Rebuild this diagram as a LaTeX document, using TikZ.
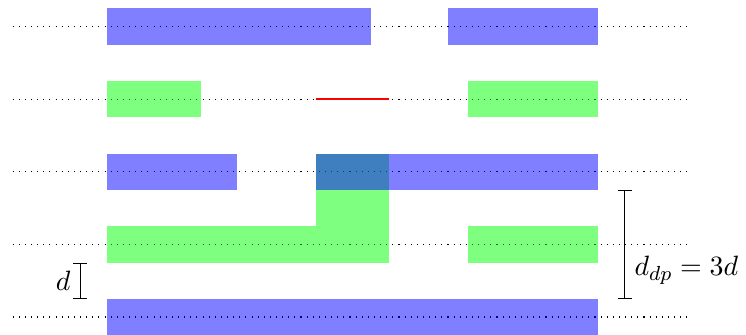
\documentclass[11pt,tikz,border=0pt]{standalone}
\begin{document}
\begin{tikzpicture}[metal/.style={fill=blue,fill opacity=.5},
  poly/.style={fill=green,fill opacity=.5},
  guide/.style={dotted},
  dim/.style={|-|}]
  \useasboundingbox (-1.474,-0.234) rectangle (8.80,4.366);
  % layer guides
  \foreach \y in {0,...,4}
    \draw[guide] (-1.3,\y) -- (8,\y);
  % top metal
  \fill[metal] (0,3.75) rectangle (3.64,4.25);
  \fill[metal] (4.70,3.75) rectangle (6.76,4.25);
  % poly with cut
  \fill[poly] (0,2.75) rectangle (1.29,3.25);
  \fill[poly] (4.97,2.75) rectangle (6.76,3.25);
  \draw[red,thick] (2.88,3) -- (3.88,3);
  % via and lower poly
  \fill[poly] (2.88,1.25) rectangle (3.88,2.25);
  \fill[poly] (0,0.75) rectangle (3.88,1.25);
  \fill[poly] (4.97,0.75) rectangle (6.76,1.25);
  % middle metal
  \fill[metal] (0,1.75) rectangle (1.79,2.25);
  \fill[metal] (2.88,1.75) rectangle (6.76,2.25);
  % bottom metal
  \fill[metal] (0,-0.25) rectangle (6.76,0.25);
  % spacing
  \coordinate (da) at (-0.37,0.25);
  \coordinate (db) at (-0.37,0.75);
  \draw[dim] (da) -- (db) node[midway,left] (dlab) {$d$};
  \coordinate (ddpa) at (7.13,0.25);
  \coordinate (ddpb) at (7.13,1.75);
  \draw[dim] (ddpa) -- (ddpb);
  \node[right] (ddplab) at (7.13,0.64) {$d_{dp}=3d$};
\end{tikzpicture}
\end{document}
